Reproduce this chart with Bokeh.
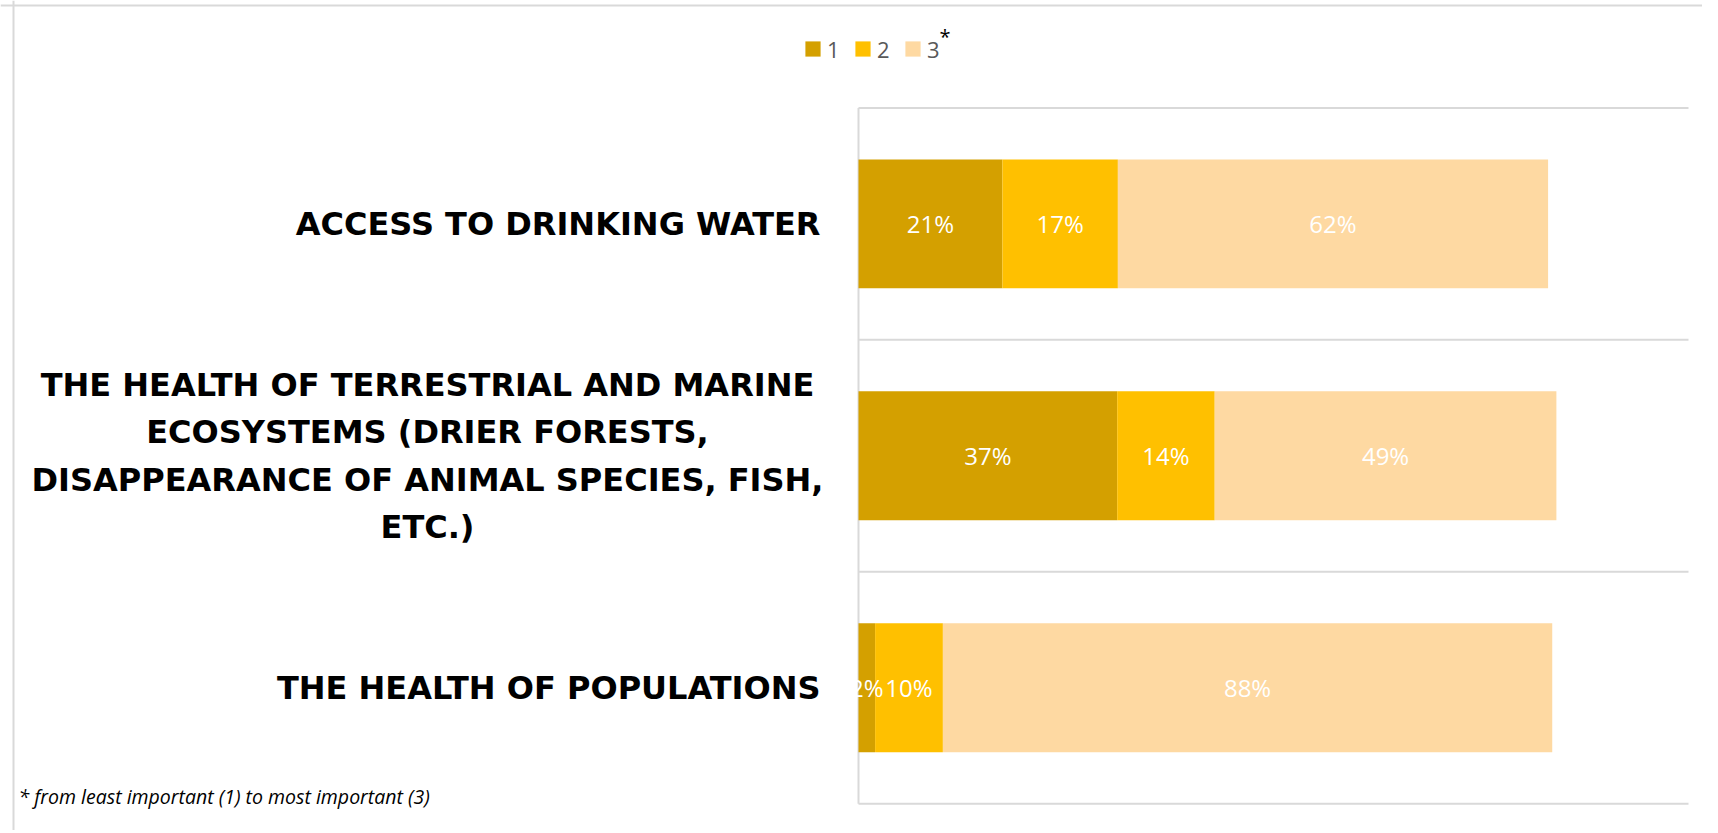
from bokeh.plotting import figure
from bokeh.models import Range1d, Legend, LegendItem, Label, ColumnDataSource, Span
from bokeh.core.properties import value
from bokeh.embed import file_html
from bokeh.resources import INLINE

categories = [
    "ACCESS TO DRINKING WATER",
    "THE HEALTH OF TERRESTRIAL AND MARINE\nECOSYSTEMS (DRIER FORESTS,\nDISAPPEARANCE OF ANIMAL SPECIES, FISH,\nETC.)",
    "THE HEALTH OF POPULATIONS",
]
series_names = ["1", "2", "3"]
rank1 = [20.8, 37.4, 2.4]
rank2 = [16.7, 14.1, 9.8]
rank3 = [62.2, 49.4, 88.1]
colors = ["#D4A000", "#FFC000", "#FED9A2"]
footnote = "* from least important (1) to most important (3)"
x_max = 120  # value axis maximum (percent)

# ---- layout (screen pixels in the page) ----
W, H = 1702, 830
canvas_left, canvas_top = 0, 0
plot_left, plot_right, plot_top, plot_bottom = 858, 1688, 107.4, 803.2
n = len(categories)
kx = (plot_right - plot_left) / x_max
ky = (plot_bottom - plot_top) / n
x0 = (canvas_left - plot_left) / kx
x1 = x_max + (canvas_left + W - plot_right) / kx
y_top = (canvas_top - plot_top) / ky
y_bot = n + (canvas_top + H - plot_bottom) / ky

p = figure(width=W, height=H, output_backend="svg", toolbar_location=None,
           x_range=Range1d(x0, x1), y_range=Range1d(y_bot, y_top),
           min_border=0)
p.outline_line_color = None
p.axis.visible = False
p.grid.visible = False

ypos = [i + 0.5 for i in range(n)]
src = ColumnDataSource(dict(y=ypos, r1=rank1, r2=rank2, r3=rank3))

# gridlines between categories and the category axis line
p.segment(x0=[0] * (n + 1), x1=[x_max] * (n + 1), y0=list(range(n + 1)), y1=list(range(n + 1)),
          line_color="#D9D9D9", line_width=2)
p.segment(x0=[0], x1=[0], y0=[0], y1=[n], line_color="#D9D9D9", line_width=2)

rs = p.hbar_stack(["r1", "r2", "r3"], y="y", height=0.556, color=colors, source=src, line_color=None)

# data labels
lx, ly, lt = [], [], []
for i, y in enumerate(ypos):
    left = 0.0
    for vals in (rank1, rank2, rank3):
        v = vals[i]
        lx.append(left + v / 2)
        ly.append(y)
        lt.append(f"{round(v)}%")
        left += v
p.text(x="x", y="y", text="t", source=ColumnDataSource(dict(x=lx, y=ly, t=lt)),
       text_color="white", text_align="center", text_baseline="middle",
       text_font=value("Open Sans"), text_font_size="24px")

# category labels
label_right = (820 - plot_left) / kx
label_center = (427 - plot_left) / kx
cx = [label_center if "\n" in c else label_right for c in categories]
ca = ["center" if "\n" in c else "right" for c in categories]
p.text(x="x", y="y", text="t", text_align="a",
       source=ColumnDataSource(dict(x=cx, y=ypos, t=categories, a=ca)),
       text_color="black", text_baseline="middle",
       text_font=value("DejaVu Sans"), text_font_style="bold", text_font_size="32px",
       text_line_height=1.25)

# chart border (left and top)
p.add_layout(Span(location=(13 - plot_left) / kx, dimension="height", line_color="#D9D9D9", line_width=2))
p.add_layout(Span(location=(5 - plot_top) / ky, dimension="width", line_color="#D9D9D9", line_width=2))

legend = Legend(items=[LegendItem(label=nm, renderers=[r]) for nm, r in zip(series_names, rs)],
                orientation="horizontal", location=(803 - canvas_left, canvas_top + H - 63.5),
                border_line_color=None, background_fill_alpha=0, padding=0, margin=0,
                spacing=6, glyph_width=19, glyph_height=19, label_standoff=5,
                label_text_font="Open Sans", label_text_font_size="22px",
                label_text_color="#595959")
p.add_layout(legend, "center")

p.add_layout(Label(x=939 - canvas_left, y=canvas_top + H - 22, x_units="screen", y_units="screen",
                   text="*", text_baseline="top", text_font="Open Sans", text_font_size="20px",
                   text_color="black"))
p.add_layout(Label(x=18 - canvas_left, y=canvas_top + H - 796, x_units="screen", y_units="screen",
                   text=footnote, text_baseline="middle", text_align="left", text_font="Open Sans",
                   text_font_style="italic", text_font_size="19.5px", text_color="black"))

open("out.html", "w").write(file_html(p, INLINE))
